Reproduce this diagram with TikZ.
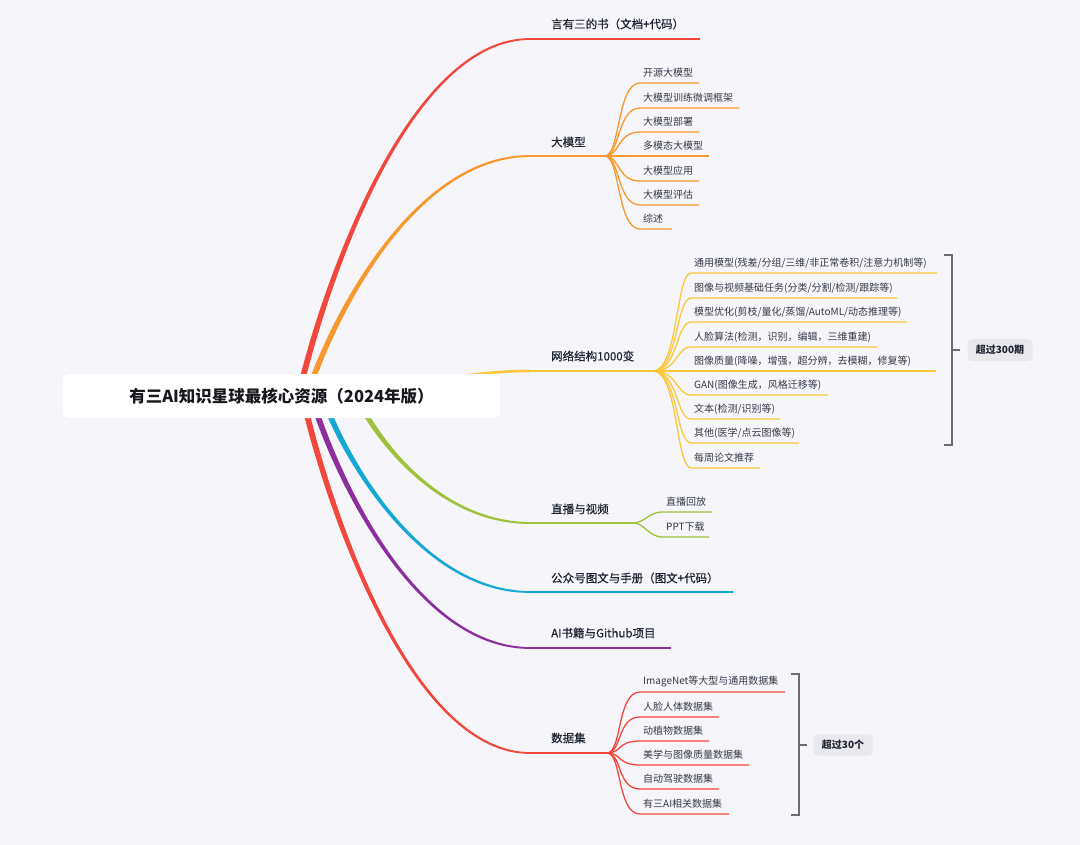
\documentclass[tikz,border=0pt]{standalone}
\usepackage{fontspec}
\setmainfont{Noto Sans CJK SC}
\newfontfamily\medfont{Noto Sans CJK SC}[FakeBold=0.45]
\usetikzlibrary{calc}
\definecolor{bgc}{HTML}{F5F5FA}
\definecolor{redc}{HTML}{F2473C}
\definecolor{orangec}{HTML}{F8982F}
\definecolor{yellowc}{HTML}{FCC73A}
\definecolor{greenc}{HTML}{9EC23E}
\definecolor{cyanc}{HTML}{16A8D5}
\definecolor{purplec}{HTML}{8C2F9D}
\definecolor{mainc}{HTML}{1E2430}
\definecolor{childc}{HTML}{353A46}
\definecolor{rootc}{HTML}{16181D}
\definecolor{brc}{HTML}{6C6C70}
\definecolor{tagc}{HTML}{E9E9ED}
\tikzset{
  childtext/.style={font=\fontsize{10}{12}\selectfont, text=childc, inner sep=0pt, anchor=west},
  mainlabel/.style={font=\medfont\fontsize{11.5}{14}\selectfont, text=mainc, inner sep=0pt, anchor=west},
  childline/.style={line width=1.3pt},
  rootbox/.style={fill=white, rounded corners=6pt, minimum width=437pt, minimum height=44pt, inner sep=0pt, font=\fontsize{16.5}{20}\selectfont\bfseries, text=rootc},
  bracketline/.style={draw=brc, line width=1.4pt},
  tag/.style={fill=tagc, rounded corners=4pt, inner sep=0pt, font=\fontsize{10}{12}\selectfont\bfseries, text=mainc}
}
% tapered main branch: color, start, curve end, line end, side sign
\newcommand\mainbranch[5]{%
  \fill[#1] let \p1=(#2), \p2=(#3), \p3=(#4) in
  ({\x1-3.0pt},\y1) .. controls ({\x1+0.14*(\x2-\x1)-3.0pt},{\y1+0.37*(\y2-\y1)}) and ({\x1+0.5*(\x2-\x1)},{\y2+(#5)*1.9pt}) .. (\x2,{\y2+(#5)*0.85pt})
  -- (\x3,{\y3+(#5)*0.85pt}) -- (\x3,{\y3-(#5)*0.85pt}) -- (\x2,{\y2-(#5)*0.85pt})
  .. controls ({\x1+0.5*(\x2-\x1)},{\y2-(#5)*1.9pt}) and ({\x1+0.14*(\x2-\x1)+3.0pt},{\y1+0.37*(\y2-\y1)}) .. ({\x1+3.0pt},\y1) -- cycle;
}
% child: color, fan, name, line y, curve end x, line end x, text, c1, c2
\newcommand\child[9]{%
  \coordinate (#3s) at (#5,#4);
  \coordinate (#3e) at (#6,#4);
  \node[childtext] (#3) at ({#5+3},{#4-10}) {#7};
  \draw[childline, #1] (#2) .. controls +(#8,0) and +(-#9,0) .. (#3s) -- (#3e);
}
\begin{document}
\begin{tikzpicture}[x=1pt,y=-1pt]
\fill[bgc] (0,0) rectangle (1080,845);
\useasboundingbox (0,0) rectangle (1080,845);

% main branch coordinates
\coordinate (s1) at (302,381); \coordinate (m1) at (530,39);  \coordinate (e1) at (700,39);
\coordinate (s2) at (312,381); \coordinate (m2) at (530,156); \coordinate (f2) at (605,156);
\coordinate (s3) at (440,379); \coordinate (m3) at (530,371); \coordinate (f3) at (653,371);
\coordinate (s4) at (364,411); \coordinate (m4) at (530,523); \coordinate (f4) at (633,523);
\coordinate (s5) at (328,411); \coordinate (m5) at (530,592); \coordinate (e5) at (733,592);
\coordinate (s6) at (316,411); \coordinate (m6) at (530,648); \coordinate (e6) at (671,648);
\coordinate (s7) at (306,411); \coordinate (m7) at (530,753); \coordinate (f7) at (607,753);

\mainbranch{redc}{s1}{m1}{e1}{1}
\mainbranch{orangec}{s2}{m2}{f2}{1}
\draw[yellowc, line width=2.6pt] (s3) .. controls +(40,-6) and +(-25,0) .. (m3);
\draw[yellowc, line width=1.7pt] (m3) -- (f3);
\mainbranch{greenc}{s4}{m4}{f4}{-1}
\mainbranch{cyanc}{s5}{m5}{e5}{-1}
\mainbranch{purplec}{s6}{m6}{e6}{-1}
\mainbranch{redc}{s7}{m7}{f7}{-1}

% main labels
\node[mainlabel] (l1) at (551,24)  {言有三的书（文档+代码）};
\node[mainlabel] (l2) at (551,142) {大模型};
\node[mainlabel] (l3) at (551,356) {网络结构1000变};
\node[mainlabel] (l4) at (551,509) {直播与视频};
\node[mainlabel] (l5) at (551,578) {公众号图文与手册（图文+代码）};
\node[mainlabel] (l6) at (551,633) {AI书籍与Github项目};
\node[mainlabel] (l7) at (551,738) {数据集};

% children of 大模型
\child{orangec}{f2}{a1}{83}{640}{699}{开源大模型}{15}{23}
\child{orangec}{f2}{a2}{108}{640}{739}{大模型训练微调框架}{15}{23}
\child{orangec}{f2}{a3}{132}{640}{699}{大模型部署}{15}{23}
\child{orangec}{f2}{a4}{156}{640}{709}{多模态大模型}{15}{23}
\child{orangec}{f2}{a5}{181}{640}{699}{大模型应用}{15}{23}
\child{orangec}{f2}{a6}{205}{640}{699}{大模型评估}{15}{23}
\child{orangec}{f2}{a7}{229}{640}{672}{综述}{15}{23}

% children of 网络结构
\child{yellowc}{f3}{n1}{273}{691}{937}{通用模型(残差/分组/三维/非正常卷积/注意力机制等)}{25}{15}
\child{yellowc}{f3}{n2}{298}{691}{897}{图像与视频基础任务(分类/分割/检测/跟踪等)}{25}{15}
\child{yellowc}{f3}{n3}{322}{691}{907}{模型优化(剪枝/量化/蒸馏/AutoML/动态推理等)}{25}{15}
\child{yellowc}{f3}{n4}{347}{691}{877}{人脸算法(检测，识别，编辑，三维重建)}{25}{15}
\child{yellowc}{f3}{n5}{371}{691}{936}{图像质量(降噪，增强，超分辨，去模糊，修复等)}{25}{15}
\child{yellowc}{f3}{n6}{395}{691}{828}{GAN(图像生成，风格迁移等)}{25}{15}
\child{yellowc}{f3}{n7}{419}{691}{780}{文本(检测/识别等)}{25}{15}
\child{yellowc}{f3}{n8}{443}{691}{799}{其他(医学/点云图像等)}{25}{15}
\child{yellowc}{f3}{n9}{468}{691}{760}{每周论文推荐}{25}{15}

% children of 直播与视频
\child{greenc}{f4}{v1}{512}{663}{712}{直播回放}{12}{15}
\child{greenc}{f4}{v2}{537}{663}{709}{PPT下载}{12}{15}

% children of 数据集
\child{redc}{f7}{d1}{692}{640}{785}{ImageNet等大型与通用数据集}{15}{23}
\child{redc}{f7}{d2}{717}{640}{719}{人脸人体数据集}{15}{23}
\child{redc}{f7}{d3}{741}{640}{709}{动植物数据集}{15}{23}
\child{redc}{f7}{d4}{765}{640}{749}{美学与图像质量数据集}{15}{23}
\child{redc}{f7}{d5}{789}{640}{719}{自动驾驶数据集}{15}{23}
\child{redc}{f7}{d6}{814}{640}{729}{有三AI相关数据集}{15}{23}

% root
\node[rootbox] (root) at (281.5,396) {有三AI知识星球最核心资源（2024年版）};

% brackets
\coordinate (b1t) at (952,255); \coordinate (b1b) at (952,445); \coordinate (b1m) at (952,350);
\draw[bracketline] ($(b1t)+(-8,0)$) -- (b1t) -- (b1b) -- ($(b1b)+(-8,0)$);
\draw[bracketline] (b1m) -- ++(8,0);
\node[tag, minimum width=65pt, minimum height=22pt] (t1) at (1000,350) {超过300期};

\coordinate (b2t) at (799,674); \coordinate (b2b) at (799,815); \coordinate (b2m) at (799,745);
\draw[bracketline] ($(b2t)+(-8,0)$) -- (b2t) -- (b2b) -- ($(b2b)+(-8,0)$);
\draw[bracketline] (b2m) -- ++(8,0);
\node[tag, minimum width=59pt, minimum height=21pt] (t2) at (843,745) {超过30个};
\end{tikzpicture}
\end{document}
